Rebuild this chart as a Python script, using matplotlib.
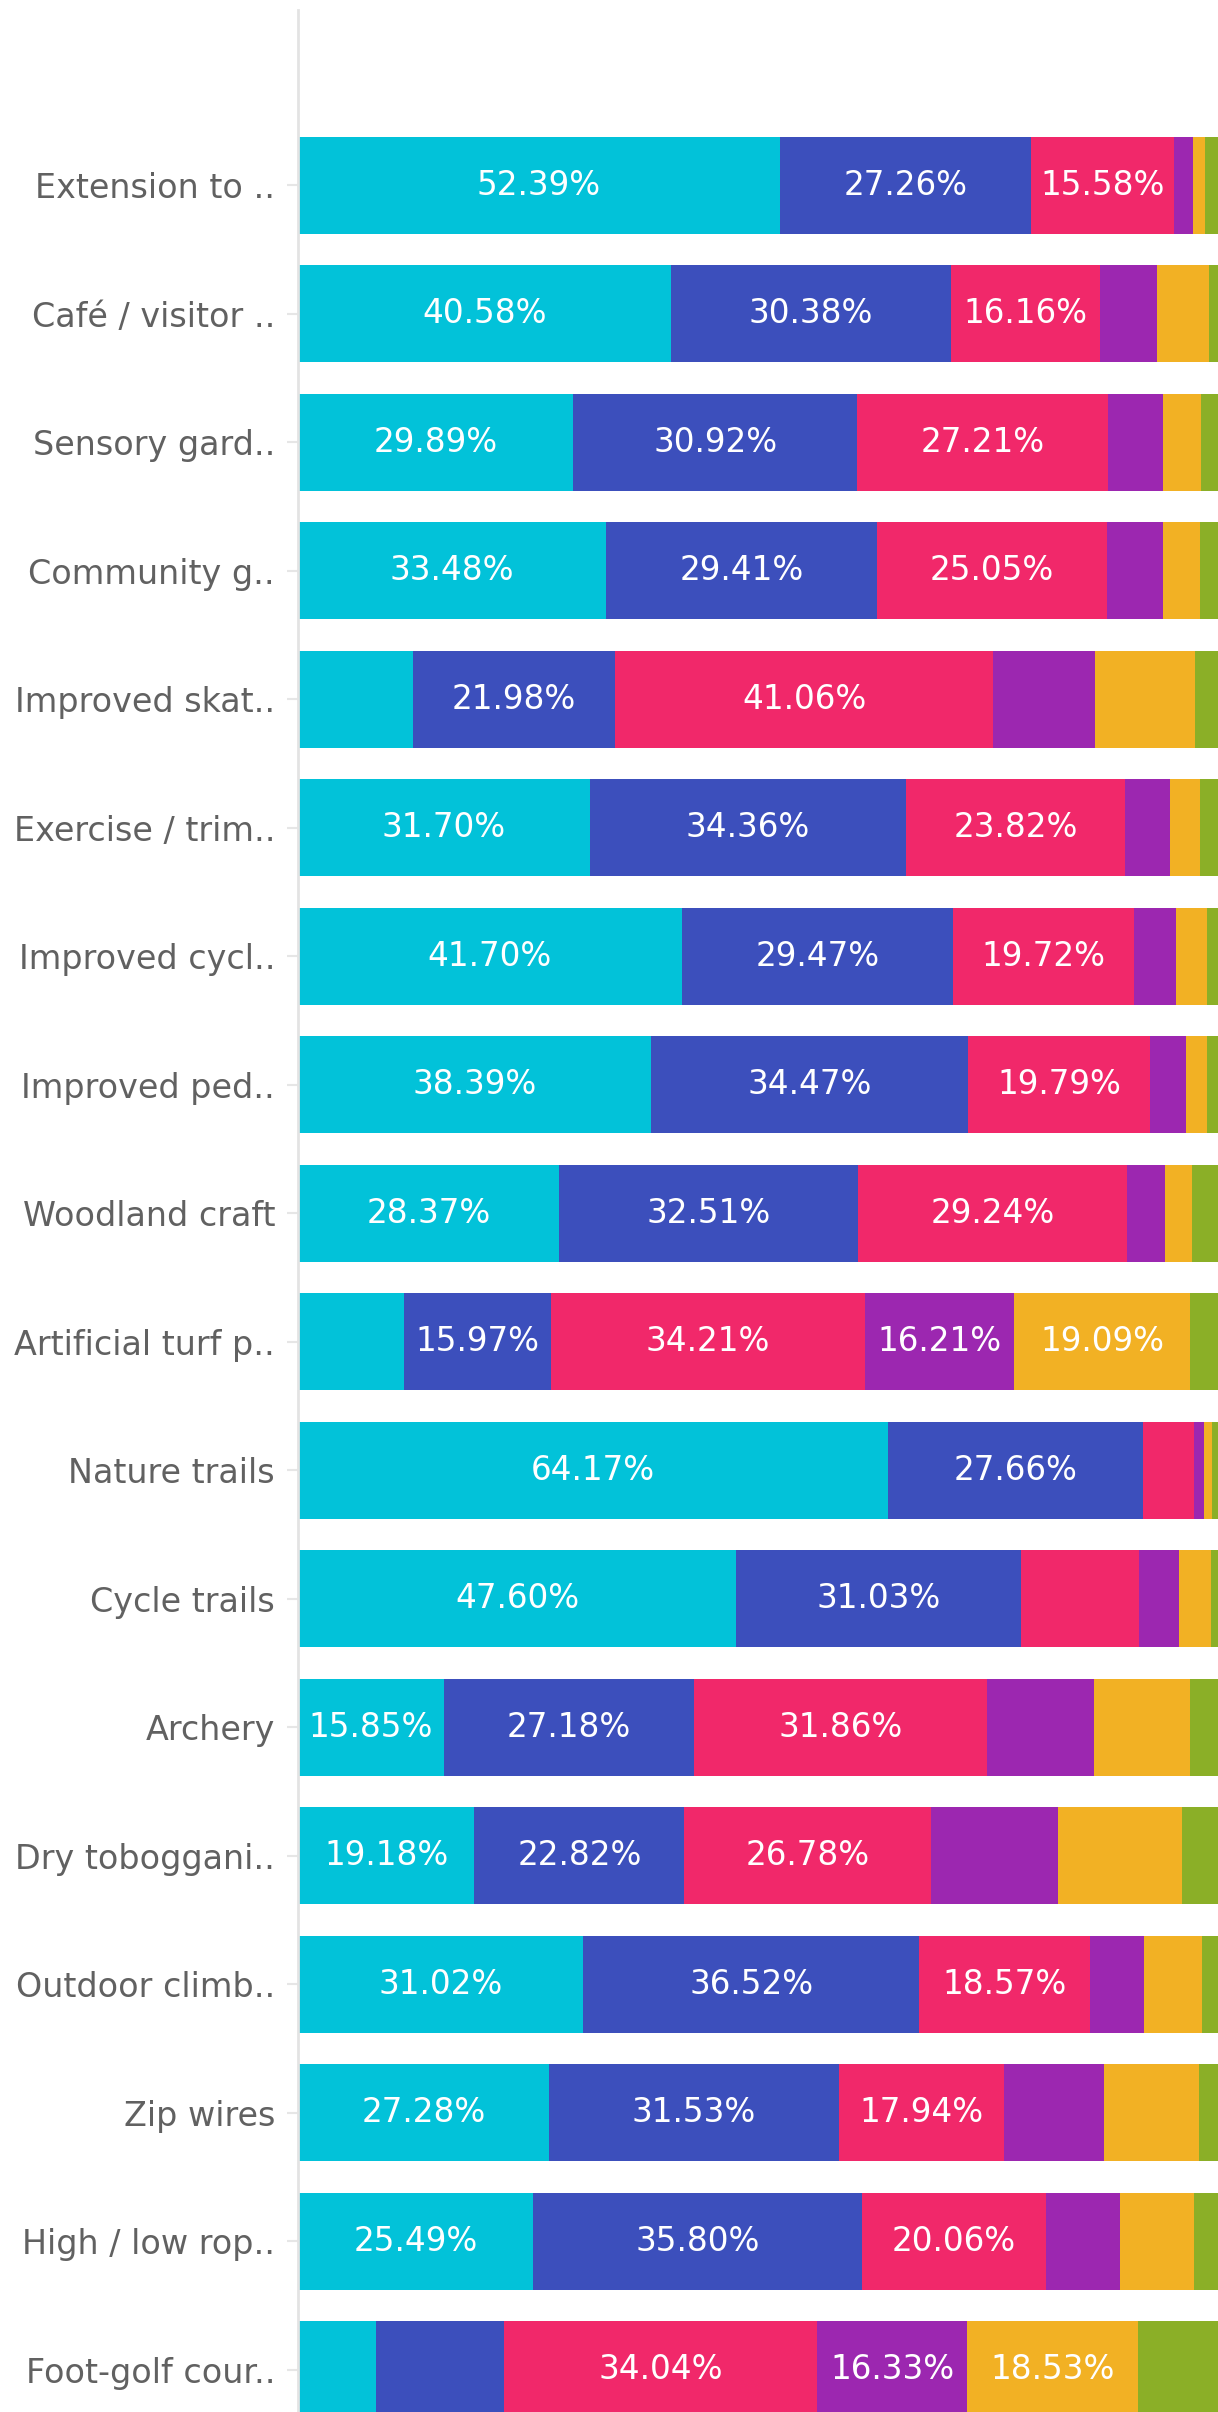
import numpy as np
import matplotlib as mpl
mpl.use('Agg')
import matplotlib.pyplot as plt

# categories (top to bottom) and the six stacked shares, in percent
categories = ['Extension to ..', 'Café / visitor ..', 'Sensory gard..', 'Community g..',
              'Improved skat..', 'Exercise / trim..', 'Improved cycl..', 'Improved ped..',
              'Woodland craft', 'Artificial turf p..', 'Nature trails', 'Cycle trails',
              'Archery', 'Dry toboggani..', 'Outdoor climb..', 'Zip wires',
              'High / low rop..', 'Foot-golf cour..']

s1 = [52.39, 40.58, 29.89, 33.48, 12.49, 31.70, 41.70, 38.39, 28.37, 11.49, 64.17, 47.60, 15.85, 19.18, 31.02, 27.28, 25.49, 8.45]
s2 = [27.26, 30.38, 30.92, 29.41, 21.98, 34.36, 29.47, 34.47, 32.51, 15.97, 27.66, 31.03, 27.18, 22.82, 36.52, 31.53, 35.80, 13.95]
s3 = [15.58, 16.16, 27.21, 25.05, 41.06, 23.82, 19.72, 19.79, 29.24, 34.21, 5.56, 12.80, 31.86, 26.78, 18.57, 17.94, 20.06, 34.04]
s4 = [2.08, 6.24, 6.03, 6.03, 11.14, 4.85, 4.56, 3.85, 4.14, 16.21, 1.09, 4.29, 11.68, 13.88, 5.89, 10.82, 8.02, 16.33]
s5 = [1.25, 5.64, 4.10, 4.10, 10.80, 3.35, 3.38, 2.25, 2.96, 19.09, 0.84, 3.53, 10.42, 13.47, 6.23, 10.40, 8.02, 18.53]
s6 = [1.44, 1.00, 1.85, 1.93, 2.53, 1.92, 1.17, 1.25, 2.78, 3.03, 0.68, 0.75, 3.01, 3.87, 1.77, 2.03, 2.61, 8.71]

series = [s1, s2, s3, s4, s5, s6]
colors = ['#02C2D9', '#3C4FBC', '#F1286A', '#9C27B0', '#F2B124', '#8BAF27']

fig = plt.figure(figsize=(12.18, 24.12), dpi=100)
ax = fig.add_axes([298/1218., 0.0, 1 - 298/1218., 1 - 10/2412.])

y = np.arange(len(categories))
left = np.zeros(len(categories))
for vals, c in zip(series, colors):
    vals = np.array(vals)
    bars = ax.barh(y, vals, left=left, height=0.755, color=c, edgecolor='none')
    for b, v in zip(bars, vals):
        # only the wider segments carry a label
        if v >= 15:
            ax.text(b.get_x() + b.get_width()/2., b.get_y() + b.get_height()/2.,
                    '%.2f%%' % v, ha='center', va='center', color='white', fontsize=23.5)
    left += vals

ax.set_xlim(0, 100)
ax.set_ylim(17.33, -1.363)
ax.set_yticks(y)
ax.set_yticklabels(categories, fontsize=24, color='#616161')
ax.tick_params(axis='y', length=8, width=1.5, color='#e6e6e6', pad=8.5)
ax.set_xticks([])
for s in ['top', 'right', 'bottom']:
    ax.spines[s].set_visible(False)
ax.spines['left'].set_color('#e3e3e3')
ax.spines['left'].set_linewidth(2)

fig.savefig('out.png', dpi=100)
